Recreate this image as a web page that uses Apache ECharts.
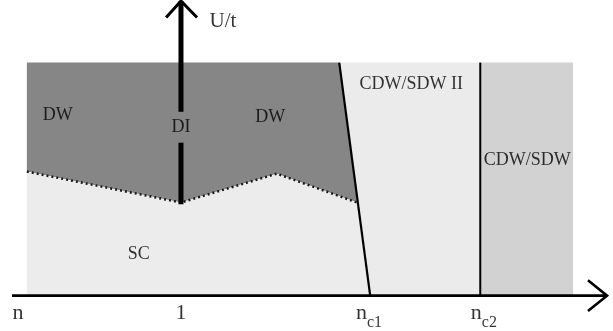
<!DOCTYPE html>
<html>
<head>
<meta charset="utf-8">
<script src="https://cdn.jsdelivr.net/npm/echarts@6/dist/echarts.min.js"></script>
<style>html,body{margin:0;padding:0;background:#fff}#c{width:613px;height:331px}</style>
</head>
<body>
<div id="c"></div>
<script>
// Phase regions (x: doping axis units, y: U/t units)
const regionNames = ['DW', 'SC', 'CDW/SDW II', 'CDW/SDW'];
const regionDW = [[2.5,79.1],[55.0,79.1],[58.0,31.6],[44.5,41.4],[28.4,31.6],[2.5,42.1]];
const regionSC = [[2.5,42.1],[28.4,31.6],[44.5,41.4],[58.0,31.6],[60.2,0],[2.5,0]];
const regionCDW2 = [[55.0,79.1],[78.7,79.1],[78.7,0],[60.2,0]];
const regionCDW = [[78.7,79.1],[94.3,79.1],[94.3,0],[78.7,0]];
const regionColors = ['#868686', '#ececec', '#ebebeb', '#d2d2d2'];

// Boundaries
const boundaryDotted = [[2.5,42.1],[28.4,31.6],[44.5,41.4],[58.0,31.6]];
const boundaryNc1 = [[55.0,79.1],[60.2,0]];
const boundaryNc2 = [[78.7,79.1],[78.7,0]];

// Axes drawn as arrows
const xAxisLine = [[0,0],[100,0]];
const xArrow = [[96.8,5.2],[100,0],[96.8,-5.2]];
const uAxisUpper = [[28.4,100],[28.4,62.4]];
const uAxisLower = [[28.4,51.9],[28.4,31.0]];
const uArrow = [[25.9,94.4],[28.4,100],[31.1,94.4]];

// Region labels
const labelTexts = ['DW', 'DI', 'DW', 'CDW/SDW II', 'CDW/SDW', 'SC'];
const labelPos = [[7.7,61.2],[28.4,57.0],[43.4,60.6],[67.1,71.6],[86.6,46.0],[21.3,13.9]];

// Tick labels
const tickLabels = ['n', '1', 'n_c1', 'n_c2'];
const tickPos = [1.0, 28.4, 60.0, 79.3];
const axisTitle = 'U/t';

const font = '"Liberation Serif", "Times New Roman", serif';

function polySeries(pts, color) {
  return {
    type: 'custom',
    coordinateSystem: 'cartesian2d',
    silent: true,
    data: [0],
    renderItem: function (params, api) {
      return {
        type: 'polygon',
        shape: { points: pts.map(p => api.coord(p)) },
        style: { fill: color, stroke: null }
      };
    },
    z: 1
  };
}
function lineSeries(pts, width, type, color, z) {
  return {
    type: 'line', data: pts, symbol: 'none', silent: true, animation: false,
    lineStyle: { width: width, type: type || 'solid', color: color || '#000', cap: 'butt', join: 'miter' },
    z: z || 5
  };
}

const series = [
  polySeries(regionDW, regionColors[0]),
  polySeries(regionSC, regionColors[1]),
  polySeries(regionCDW2, regionColors[2]),
  polySeries(regionCDW, regionColors[3]),
  lineSeries(boundaryDotted, 2.5, [2, 3], '#1a1a1a'),
  lineSeries(boundaryNc1, 2.2),
  lineSeries(boundaryNc2, 2),
  lineSeries(xAxisLine, 2.6),
  lineSeries(xArrow, 2.6),
  lineSeries(uAxisUpper, 5),
  lineSeries(uAxisLower, 5),
  lineSeries(uArrow, 3),
  {
    type: 'scatter', symbolSize: 0, silent: true, z: 10,
    data: labelTexts.map((t, i) => ({ value: labelPos[i], name: t })),
    label: { show: true, position: 'inside', formatter: p => p.name,
      fontFamily: font, fontSize: 18, color: '#000' }
  },
  {
    type: 'scatter', symbolSize: 0, silent: true, z: 10,
    data: [{ value: [33.2, 93.0], name: axisTitle }],
    label: { show: true, position: 'right', distance: 0, formatter: p => p.name,
      fontFamily: font, fontSize: 21, color: '#000' }
  },
  {
    type: 'scatter', symbolSize: 0, silent: true, z: 10,
    data: tickLabels.map((t, i) => ({ value: [tickPos[i], -6.0], name: t })),
    label: { show: true, position: 'inside',
      formatter: p => {
        const parts = p.name.split('_');
        return parts.length > 1 ? '{m|' + parts[0] + '}{s|' + parts[1] + '}' : '{m|' + parts[0] + '}';
      },
      rich: {
        m: { fontFamily: font, fontSize: 22, color: '#000', verticalAlign: 'bottom' },
        s: { fontFamily: font, fontSize: 16, color: '#000', verticalAlign: 'bottom', padding: [0,0,-6,0] }
      }
    }
  }
];

const chart = echarts.init(document.getElementById('c'), null, { renderer: 'canvas' });
chart.setOption({
  animation: false,
  backgroundColor: '#fff',
  grid: { left: 12, right: 6, top: 1, bottom: 0 },
  xAxis: { type: 'value', min: 0, max: 100, show: false },
  yAxis: { type: 'value', min: -12, max: 100, show: false },
  series: series
});
</script>
</body>
</html>
